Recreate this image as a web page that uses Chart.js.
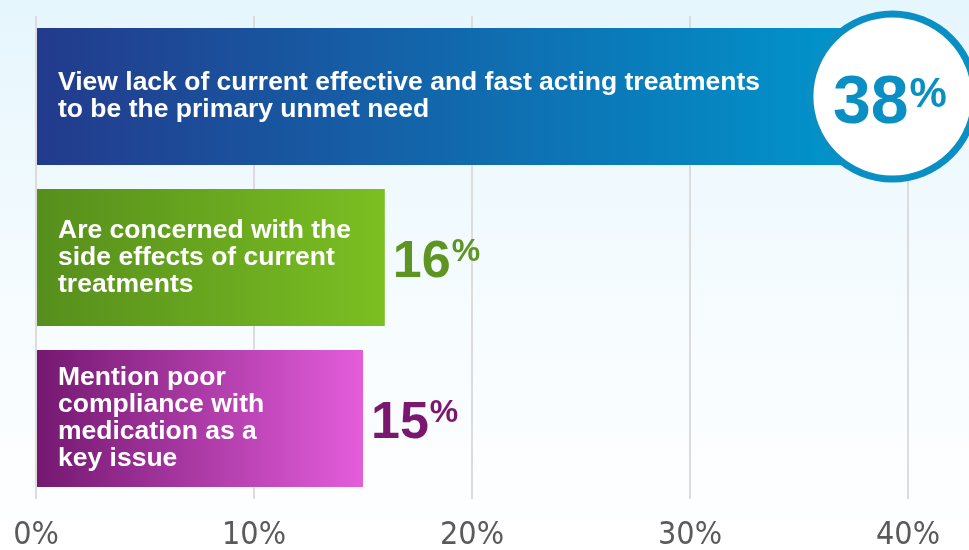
<!DOCTYPE html>
<html>
<head>
<meta charset="utf-8">
<script src="https://cdn.jsdelivr.net/npm/chart.js@4"></script>
<style>
  html, body { margin: 0; padding: 0; background: #fff; }
  #wrap { width: 969px; height: 550px; }
</style>
</head>
<body>
<div id="wrap"><canvas id="myChart" width="969" height="550"></canvas></div>
<script>
// data
var labels = [
    ["View lack of current effective and fast acting treatments", "to be the primary unmet need"],
    ["Are concerned with the", "side effects of current", "treatments"],
    ["Mention poor", "compliance with", "medication as a", "key issue"]
];
var values = [38, 16, 15];
var tickLabels = ["0%", "10%", "20%", "30%", "40%"];

var startColors = ["#233a8c", "#568e1c", "#741870"];
var endColors   = ["#0096cd", "#7bbf22", "#e45ddc"];
var valueColors = ["#0a8fc4", "#5e9421", "#7a1870"];

// fond + textes
var decor = {
    id: 'decor',
    beforeDraw: function(chart) {
        var c = chart.ctx;
        var g = c.createLinearGradient(0, 0, 0, chart.height);
        g.addColorStop(0, "#e6f6fd");
        g.addColorStop(0.6, "#f7fcff");
        g.addColorStop(1, "#ffffff");
        c.save();
        c.fillStyle = g;
        c.fillRect(0, 0, chart.width, chart.height);
        c.restore();
    },
    afterDatasetsDraw: function(chart) {
        var c = chart.ctx;
        var bars = chart.getDatasetMeta(0).data;
        c.save();
        bars.forEach(function(bar, i) {
            var lines = labels[i];
            var top = bar.y - (lines.length - 1) * 27 / 2;
            c.fillStyle = "#ffffff";
            c.font = "bold 26.5px 'Liberation Sans', Arial, sans-serif";
            c.textAlign = "left";
            c.textBaseline = "middle";
            lines.forEach(function(t, k) {
                c.fillText(t, bar.base + 21, top + k * 27);
            });

            var num = String(values[i]);
            if (i === 0) {
                // cercle
                var cx = bar.x + 28, cy = bar.y;
                c.beginPath();
                c.arc(cx, cy, 82.5, 0, Math.PI * 2);
                c.fillStyle = "#ffffff";
                c.fill();
                c.lineWidth = 7;
                c.strokeStyle = valueColors[0];
                c.stroke();
                c.fillStyle = valueColors[0];
                c.font = "bold 68px 'Liberation Sans', Arial, sans-serif";
                var w1 = c.measureText(num).width;
                c.font = "bold 42px 'Liberation Sans', Arial, sans-serif";
                var w2 = c.measureText("%").width;
                var x0 = cx - (w1 + w2) / 2 - 3;
                c.textBaseline = "alphabetic";
                c.font = "bold 68px 'Liberation Sans', Arial, sans-serif";
                c.fillText(num, x0, cy + 26);
                c.font = "bold 42px 'Liberation Sans', Arial, sans-serif";
                c.fillText("%", x0 + w1 + 1, cy + 10);
            } else {
                c.fillStyle = valueColors[i];
                c.textBaseline = "alphabetic";
                c.font = "bold 52px 'Liberation Sans', Arial, sans-serif";
                var wn = c.measureText(num).width;
                c.fillText(num, bar.x + 8, bar.y + 19);
                c.font = "bold 32px 'Liberation Sans', Arial, sans-serif";
                c.fillText("%", bar.x + 8 + wn + 1, bar.y + 3);
            }
        });
        c.restore();
    }
};

var ctx = document.getElementById("myChart").getContext('2d');

var myBarChart = new Chart(ctx, {
    type: 'bar',
    data: {
        labels: labels,
        datasets: [{
            data: values,
            backgroundColor: function(context) {
                var chart = context.chart;
                var i = context.dataIndex;
                if (!chart.chartArea) return startColors[i];
                var sx = chart.scales.x;
                var g = chart.ctx.createLinearGradient(sx.getPixelForValue(0), 0, sx.getPixelForValue(values[i]), 0);
                g.addColorStop(0, startColors[i]);
                g.addColorStop(1, endColors[i]);
                return g;
            },
            borderWidth: 0,
            categoryPercentage: 1,
            barPercentage: 0.851
        }]
    },
    options: {
        indexAxis: 'y',
        responsive: false,
        animation: false,
        layout: { padding: { top: 16, left: 36, right: 61, bottom: 0 } },
        plugins: {
            legend: { display: false },
            tooltip: { enabled: false }
        },
        scales: {
            x: {
                min: 0,
                max: 40,
                ticks: {
                    stepSize: 10,
                    padding: 17,
                    color: "#5a5a5a",
                    font: { family: "'Liberation Sans Narrow', 'DejaVu Sans Condensed', sans-serif", size: 32 },
                    callback: function(v, idx) { return tickLabels[idx]; }
                },
                grid: { color: "#dcdcdc", lineWidth: 2, drawTicks: false },
                border: { display: false },
                afterFit: function(s) {
                    s.height = 51;
                    s.paddingLeft = 0;
                    s.paddingRight = 0;
                }
            },
            y: { display: false }
        }
    },
    plugins: [decor]
});
</script>
</body>
</html>
